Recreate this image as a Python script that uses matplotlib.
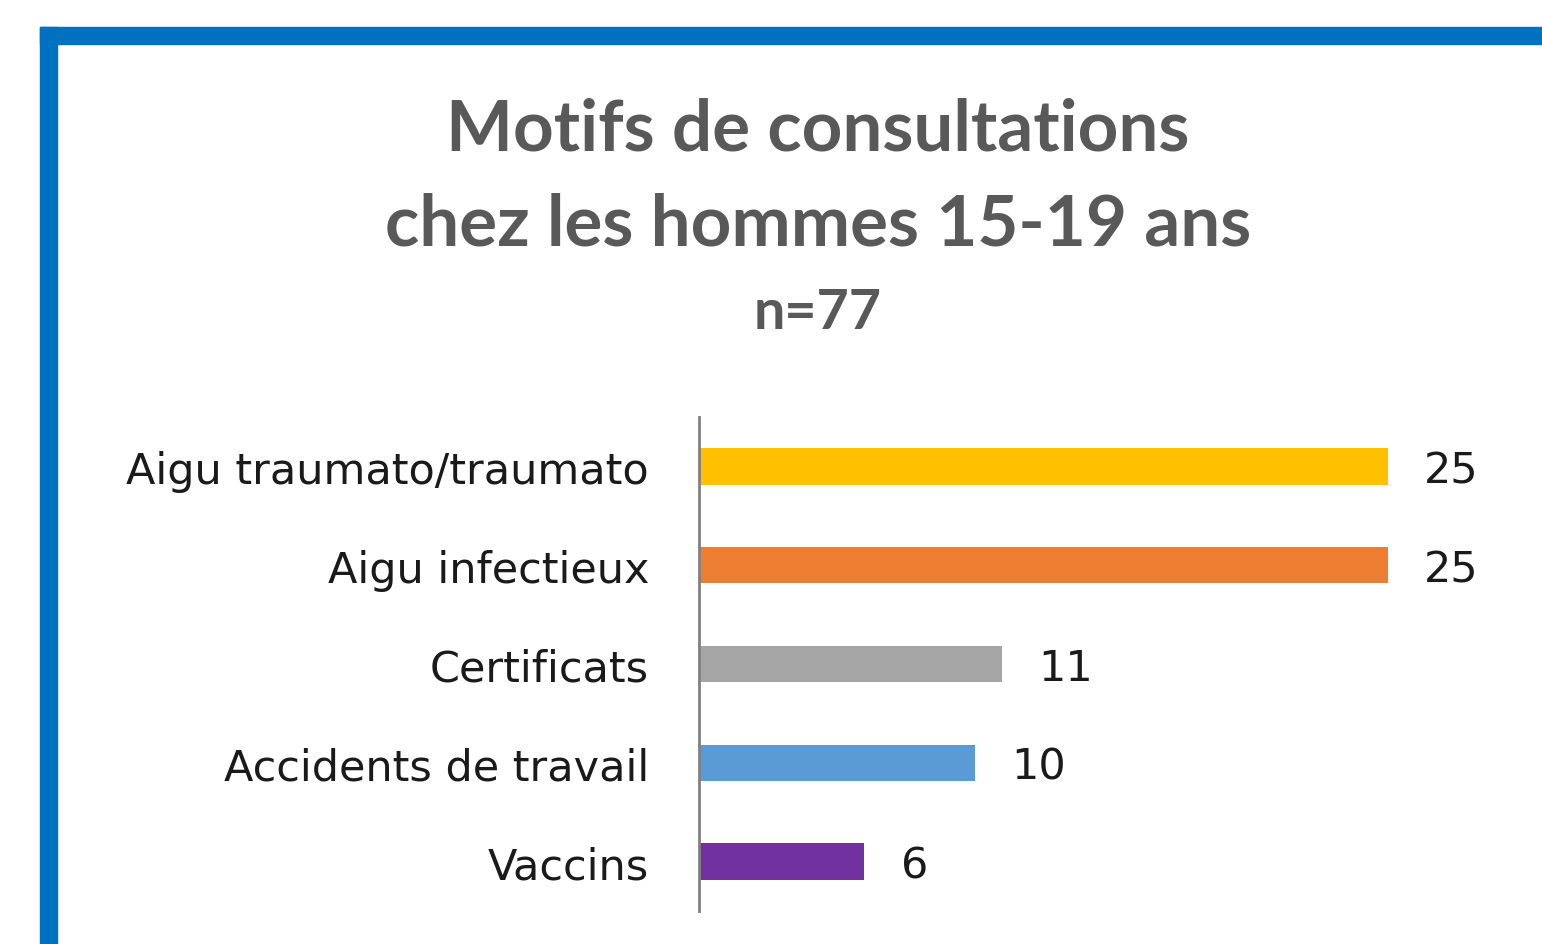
import matplotlib
matplotlib.use('Agg')
import matplotlib.pyplot as plt
from matplotlib.patches import Rectangle

# data
categories = ['Aigu traumato/traumato', 'Aigu infectieux', 'Certificats',
              'Accidents de travail', 'Vaccins']
values = [25, 25, 11, 10, 6]
colors = ['#FFC000', '#ED7D31', '#A5A5A5', '#5B9BD5', '#7030A0']
title_lines = ['Motifs de consultations', 'chez les hommes 15-19 ans']
subtitle = 'n=77'

W, H = 1542, 945
plt.rcParams['font.family'] = ['Lato', 'DejaVu Sans']
fig = plt.figure(figsize=(W/100, H/100), dpi=100)

# blue frame (top and left edges)
blue = '#0070C0'
fig.patches.append(Rectangle((40/W, 1-45/H), 1-40/W, 17/H, transform=fig.transFigure,
                             color=blue, zorder=0))
fig.patches.append(Rectangle((40/W, 0), 17/W, 1-28/H, transform=fig.transFigure,
                             color=blue, zorder=0))

# axes in pixel units
x0, x1, ytop, ybot = 699, 1526, 418, 912
ax = fig.add_axes([x0/W, 1-ybot/H, (x1-x0)/W, (ybot-ytop)/H])
ypos = list(range(len(categories)))
ax.barh(ypos, values, height=0.37, color=colors)
ax.set_xlim(0, 30)
ax.set_ylim(len(categories)-0.5, -0.5)
for s in ['top', 'right', 'bottom']:
    ax.spines[s].set_visible(False)
ax.spines['left'].set_color('#808080')
ax.spines['left'].set_linewidth(2)
ax.set_xticks([])
ax.set_yticks(ypos)
ax.set_yticklabels(categories, fontsize=31, color='#1a1a1a', family='DejaVu Sans',
                   va='center_baseline')
ax.tick_params(axis='y', length=0, pad=36)
for y, v in zip(ypos, values):
    ax.annotate(str(v), xy=(v, y), xytext=(26, -3), textcoords='offset points',
                va='center', ha='left', fontsize=31, color='#1a1a1a',
                family='DejaVu Sans')
ax.patch.set_alpha(0)

cx = 818/W
fig.text(cx, 1-130/H, title_lines[0], ha='center', va='center', fontsize=51,
         fontweight='bold', color='#595959')
fig.text(cx, 1-225/H, title_lines[1], ha='center', va='center', fontsize=51,
         fontweight='bold', color='#595959')
fig.text(cx, 1-313/H, subtitle, ha='center', va='center', fontsize=40,
         fontweight='bold', color='#595959')

fig.savefig('out.png', dpi=100, facecolor='white')
